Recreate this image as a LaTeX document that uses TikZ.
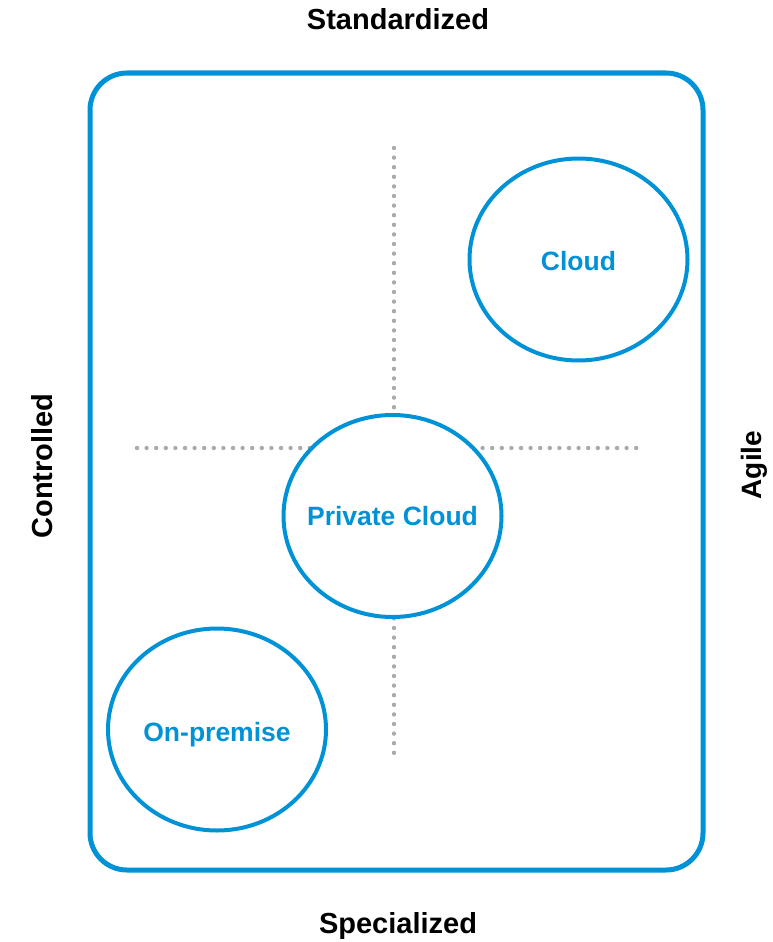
\documentclass[tikz,border=0pt]{standalone}
\usepackage{fontspec}
\setmainfont{Liberation Sans}
\usetikzlibrary{shapes.geometric}
\definecolor{bluec}{RGB}{0,146,214}
\definecolor{dotgray}{RGB}{170,170,170}
\begin{document}
\begin{tikzpicture}[x=1pt,y=-1pt,
  axislabel/.style={font=\fontsize{29}{33}\selectfont\bfseries, text=black, inner sep=0pt},
  bubble/.style={ellipse, draw=bluec, line width=4pt, fill=white, minimum width=218pt, minimum height=202pt, inner sep=0pt},
  bubbletext/.style={font=\fontsize{26.5}{30}\selectfont\bfseries, text=bluec, inner sep=0pt, text height=19pt, text depth=0pt},
  dotline/.style={draw=dotgray, line width=4.4pt, line cap=round, dash pattern=on 0pt off 9.6pt}
]
\useasboundingbox (0,0) rectangle (772,942);
\draw[bluec, line width=5pt, rounded corners=37pt] (90,73) rectangle (703,870);
\coordinate (vtop) at (394,148);
\coordinate (vbot) at (394,755);
\coordinate (hl) at (137,448);
\coordinate (hr) at (640,448);
\draw[dotline] (vtop) -- (vbot);
\draw[dotline] (hl) -- (hr);
\node[bubble] (cloud) at (578.5,259.5) {};
\node[bubble] (private) at (392.5,516) {};
\node[bubble] (onprem) at (217,729.5) {};
\node[bubbletext, yshift=-1.5pt] (cloudt) at (cloud.center) {Cloud};
\node[bubbletext] (privatet) at (private.center) {Private Cloud};
\node[bubbletext, yshift=-2.5pt] (onpremt) at (onprem.center) {On-premise};
\node[axislabel] (std) at (398,19) {Standardized};
\node[axislabel] (spec) at (398,926) {Specialized};
\node[axislabel, rotate=90] (ctrl) at (42,466) {Controlled};
\node[axislabel, rotate=90, font=\fontsize{28}{32}\selectfont\bfseries] (agile) at (754,465) {Agile};
\end{tikzpicture}
\end{document}
